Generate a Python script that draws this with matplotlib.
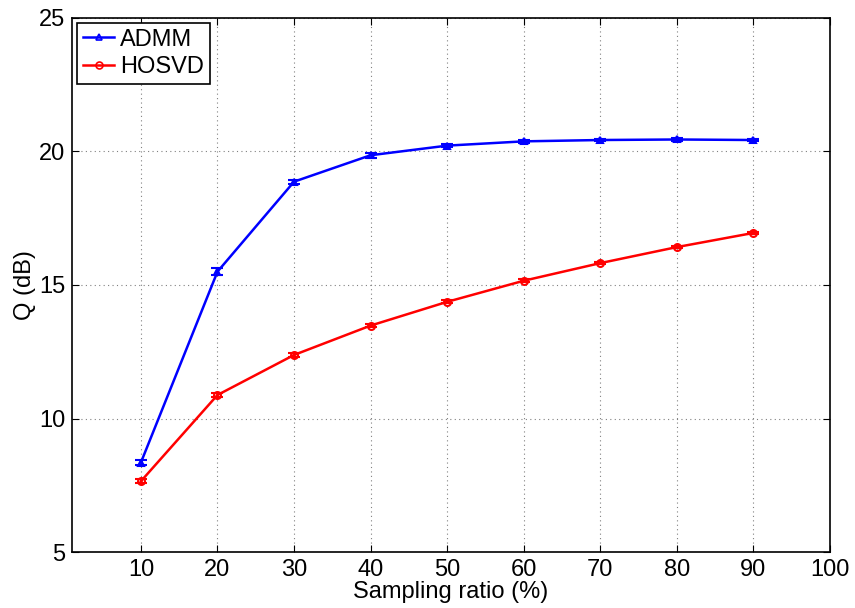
import numpy as np
import matplotlib.pyplot as plt
from matplotlib.lines import Line2D

plt.rcParams['font.family'] = ['Liberation Sans', 'DejaVu Sans']

# data
ratio = [10, 20, 30, 40, 50, 60, 70, 80, 90]
admm = [8.35, 15.5, 18.87, 19.86, 20.22, 20.38, 20.43, 20.45, 20.43]
admm_err = [0.1, 0.12, 0.08, 0.1, 0.07, 0.05, 0.05, 0.05, 0.05]
hosvd = [7.65, 10.88, 12.38, 13.48, 14.37, 15.16, 15.82, 16.42, 16.95]
hosvd_err = [0.08, 0.08, 0.06, 0.06, 0.05, 0.05, 0.05, 0.05, 0.05]

fig = plt.figure(figsize=(8.55, 6.08), dpi=100)
ax = fig.add_axes([0.0842, 0.0921, 0.8866, 0.8783])

ax.errorbar(ratio, admm, yerr=admm_err, color='#0000ff', lw=1.8, marker='^',
            ms=5, mfc='none', mew=1.5, capsize=4.5, capthick=1.5)
ax.errorbar(ratio, hosvd, yerr=hosvd_err, color='#ff0000', lw=1.8, marker='o',
            ms=5, mfc='none', mew=1.5, capsize=4.5, capthick=1.5)

ax.set_xlim(1, 100)
ax.set_ylim(5, 25)
ax.set_xticks(range(10, 101, 10))
ax.set_yticks(range(5, 26, 5))
ax.grid(True, linestyle=(0, (1, 3)), color='#808080', lw=0.8)
ax.tick_params(labelsize=17, direction='in', length=5, top=True, right=True, pad=5)
for s in ax.spines.values():
    s.set_linewidth(1.2)

ax.set_xlabel('Sampling ratio (%)', fontsize=17, labelpad=0)
ax.set_ylabel('Q (dB)', fontsize=17, labelpad=2)

handles = [Line2D([], [], color='#0000ff', lw=1.8, marker='^', ms=5, mfc='none', mew=1.2),
           Line2D([], [], color='#ff0000', lw=1.8, marker='o', ms=5, mfc='none', mew=1.2)]
leg = ax.legend(handles, ['ADMM', 'HOSVD'], loc='upper left', fontsize=17,
                fancybox=False, framealpha=1, edgecolor='black', borderaxespad=0.2,
                handlelength=1.35, handletextpad=0.25, borderpad=0.25, labelspacing=0.23)
leg.get_frame().set_linewidth(1.2)

fig.savefig('out.png', dpi=100)
